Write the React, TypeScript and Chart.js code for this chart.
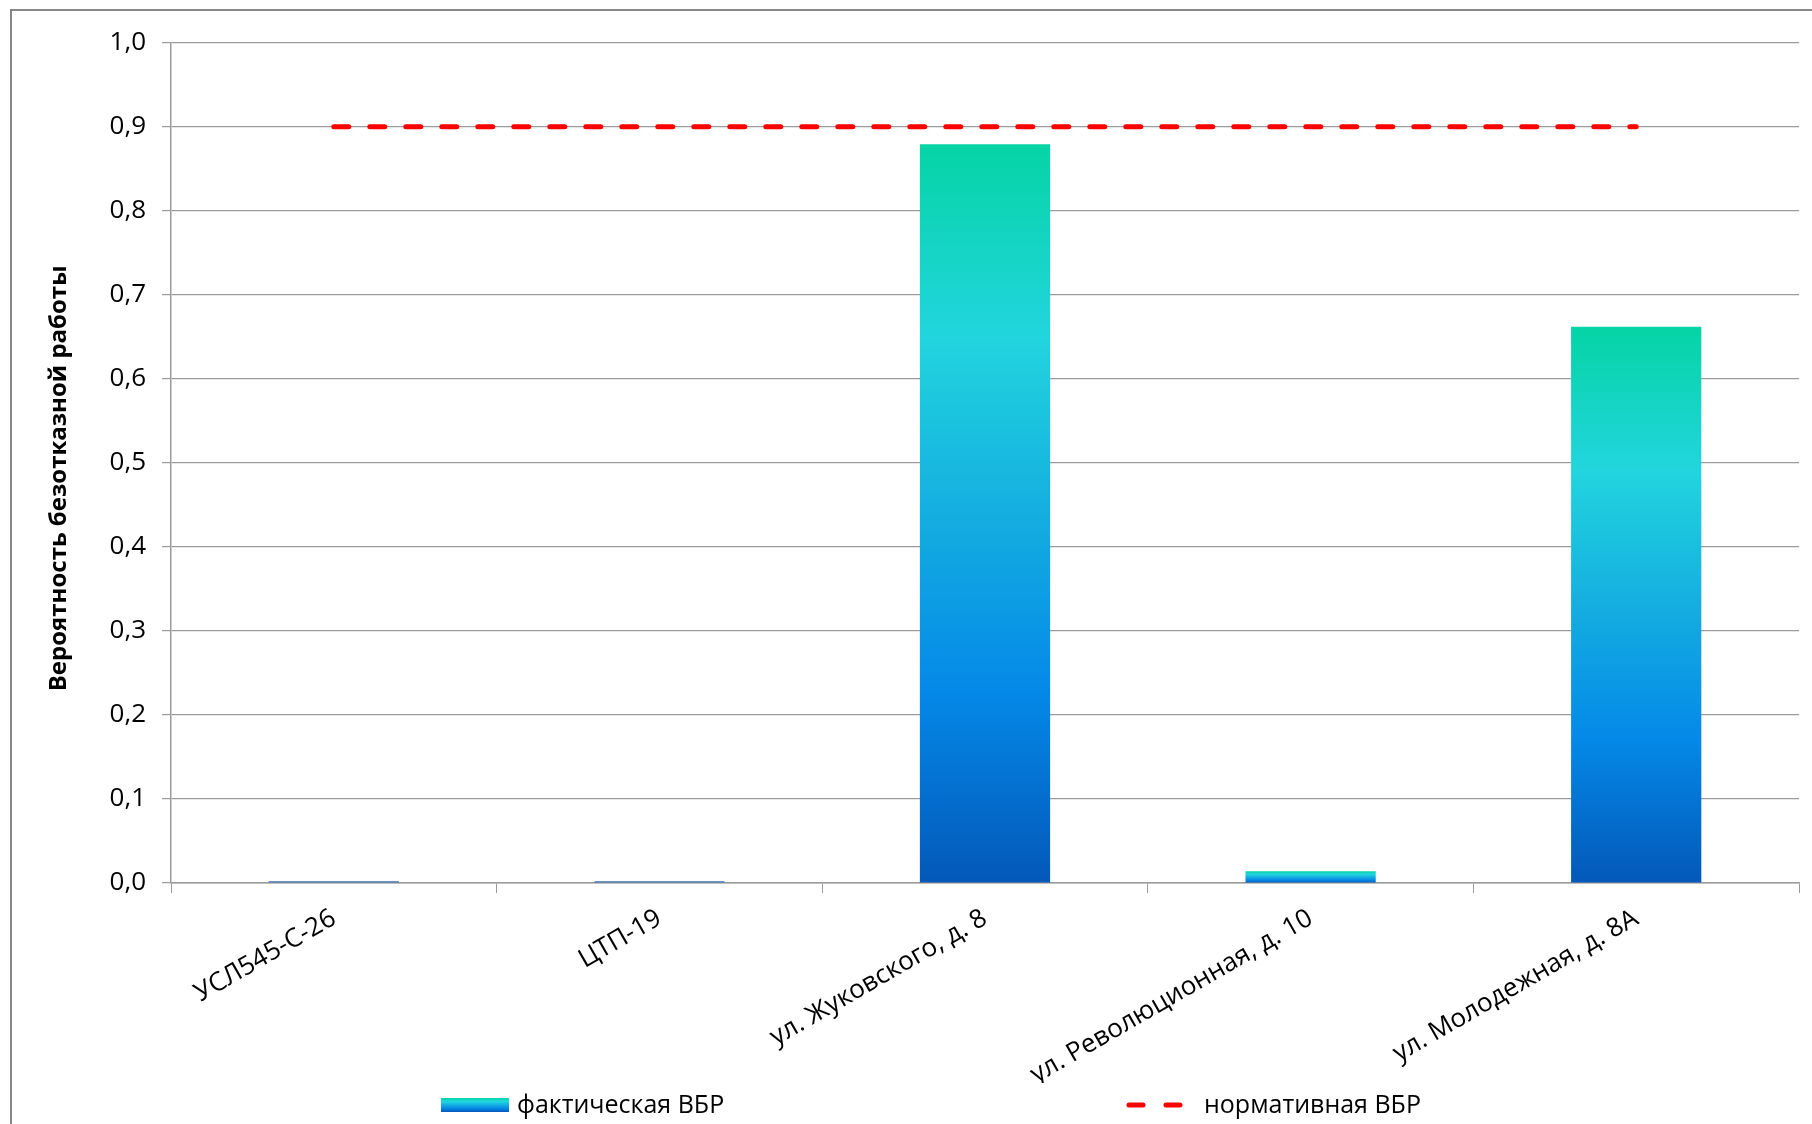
import React, { useEffect, useRef } from "react";
import { Chart, registerables } from "chart.js";

Chart.register(...registerables);

const categories = [
  "УСЛ545-С-26",
  "ЦТП-19",
  "ул. Жуковского, д. 8",
  "ул. Революционная, д. 10",
  "ул. Молодежная, д. 8А",
];
const actualValues = [0.002, 0.002, 0.879, 0.014, 0.662];
const normativeValues = [0.9, 0.9, 0.9, 0.9, 0.9];
const seriesNames = ["фактическая ВБР", "нормативная ВБР"];
const yAxisTitle = "Вероятность безотказной работы";
const yMin = 0;
const yMax = 1;
const yStep = 0.1;

const FONT = '"Open Sans", "Noto Sans", sans-serif';
const TEXT = "#000000";
const GRID = "#9b9b9b";
const gradientStops: [number, string][] = [
  [0, "#05d4a5"],
  [0.26, "#22d5de"],
  [0.5, "#14aee0"],
  [0.74, "#0489e8"],
  [1, "#0358b8"],
];

function makeGradient(ctx: CanvasRenderingContext2D, x0: number, y0: number, x1: number, y1: number) {
  const g = ctx.createLinearGradient(x0, y0, x1, y1);
  gradientStops.forEach(([o, c]) => g.addColorStop(o, c));
  return g;
}

const legendPlugin = {
  id: "customLegend",
  afterDraw(chart: any) {
    const { ctx, chartArea } = chart;
    const cy = 1094;
    ctx.save();
    ctx.font = `25px ${FONT}`;
    ctx.textBaseline = "middle";
    ctx.textAlign = "left";
    // item 1: gradient box
    const bx = chartArea.left + 270;
    ctx.fillStyle = makeGradient(ctx, 0, cy - 7, 0, cy + 7);
    ctx.fillRect(bx, cy - 7, 68, 14);
    ctx.fillStyle = TEXT;
    ctx.fillText(seriesNames[0], bx + 76, cy + 1);
    // item 2: red dashed line
    const lx = chartArea.left + 956;
    ctx.strokeStyle = "#ff0000";
    ctx.lineWidth = 5;
    ctx.lineCap = "round";
    ctx.beginPath();
    ctx.moveTo(lx + 2, cy);
    ctx.lineTo(lx + 16, cy);
    ctx.moveTo(lx + 39, cy);
    ctx.lineTo(lx + 53, cy);
    ctx.stroke();
    ctx.fillText(seriesNames[1], lx + 77, cy + 1);
    ctx.restore();
  },
};

export default function App() {
  const ref = useRef<HTMLCanvasElement | null>(null);

  useEffect(() => {
    if (!ref.current) return;
    const chart = new Chart(ref.current, {
      type: "bar",
      data: {
        labels: categories,
        datasets: [
          {
            type: "bar",
            label: seriesNames[0],
            data: actualValues,
            order: 2,
            categoryPercentage: 1,
            barPercentage: 0.4,
            borderWidth: 0,
            backgroundColor: (c: any) => {
              const chart = c.chart;
              const { chartArea, scales } = chart;
              if (!chartArea || c.type !== "data") return "#0aa0e0";
              const v = c.raw as number;
              const top = scales.y.getPixelForValue(v);
              const bottom = scales.y.getPixelForValue(0);
              if (bottom - top < 4) return "#3d72ba";
              return makeGradient(chart.ctx, 0, top, 0, bottom);
            },
          },
          {
            type: "line",
            label: seriesNames[1],
            data: normativeValues,
            order: 1,
            borderColor: "#ff0000",
            borderWidth: 5,
            borderDash: [15, 21],
            borderCapStyle: "round",
            pointRadius: 0,
            fill: false,
          },
        ],
      },
      options: {
        animation: false,
        responsive: true,
        maintainAspectRatio: false,
        layout: { padding: { left: 33, top: 29, right: 39, bottom: 64 } },
        plugins: {
          legend: { display: false },
          tooltip: { enabled: false },
        },
        scales: {
          x: {
            offset: true,
            grid: {
              offset: true,
              display: true,
              drawOnChartArea: false,
              drawTicks: true,
              tickLength: 10,
              color: GRID,
            },
            border: { display: true, color: GRID, width: 1.5 },
            ticks: {
              maxRotation: 30,
              minRotation: 30,
              autoSkip: false,
              padding: 10,
              color: TEXT,
              font: { family: FONT, size: 26 },
            },
            afterFit: (s: any) => {
              s.height = 200;
            },
          },
          y: {
            min: yMin,
            max: yMax,
            grid: { color: GRID, tickLength: 9, lineWidth: 1.2 },
            border: { display: true, color: GRID, width: 1.5 },
            ticks: {
              stepSize: yStep,
              padding: 16,
              color: TEXT,
              font: { family: FONT, size: 26 },
              callback: (v: any) => Number(v).toFixed(1).replace(".", ","),
            },
            title: {
              display: true,
              text: yAxisTitle + "     ",
              color: TEXT,
              padding: { top: 0, bottom: 0 },
              font: { family: FONT, size: 24, weight: "bold" },
            },
            afterFit: (s: any) => {
              s.width = 126;
            },
          },
        },
      },
      plugins: [legendPlugin],
    });
    return () => chart.destroy();
  }, []);

  return (
    <div
      style={{
        position: "fixed",
        left: 10,
        top: 9,
        width: 1830,
        height: 1140,
        border: "2px solid #878787",
        boxSizing: "border-box",
        background: "#ffffff",
      }}
    >
      <div style={{ position: "relative", width: "100%", height: "100%" }}>
        <canvas ref={ref} />
      </div>
    </div>
  );
}
